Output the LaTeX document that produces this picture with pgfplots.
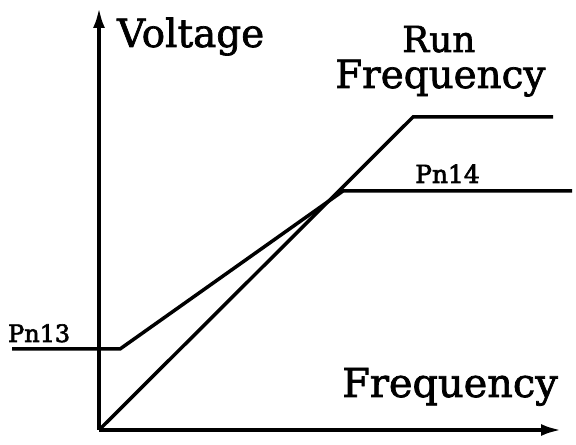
\documentclass[border=0pt]{standalone}
\usepackage{pgfplots}
\pgfplotsset{compat=1.18}
\usetikzlibrary{arrows.meta}
\usepackage{fontspec}
\setmainfont{DejaVu Serif}
\newfontfamily\labfont{DejaVu Serif}[FakeBold=1.8]
\newfontfamily\pnfont{DejaVu Serif}[FakeBold=2.5]

\begin{document}
\begin{tikzpicture}
\begin{axis}[
    scale only axis,
    width=576bp, height=445bp,
    xmin=0, xmax=576, ymin=0, ymax=445,
    hide axis, clip=false,
]
% axes
\addplot[black, line width=3.5bp, -{Latex[length=20bp,width=12bp]}] coordinates {(99,15) (99,437)};
\addplot[black, line width=3.5bp, -{Latex[length=20bp,width=12bp]}] coordinates {(99,15) (561,15)};
% Pn13 -> Pn14 voltage curve
\addplot[black, line width=3.5bp, line join=miter] coordinates {(12,96) (120,96) (343,254) (572,254)};
% run frequency curve
\addplot[black, line width=3.5bp, line join=miter] coordinates {(99,15) (413,328) (553,328)};

\node[inner sep=0pt, anchor=base west] at (axis cs:117,398) {\labfont\fontsize{39}{44}\selectfont Voltage};
\node[inner sep=0pt, anchor=base west] at (axis cs:402,393) {\labfont\fontsize{36}{44}\selectfont Run};
\node[inner sep=0pt, anchor=base west] at (axis cs:335,357) {\labfont\fontsize{39}{44}\selectfont Frequency};
\node[inner sep=0pt, anchor=base west] at (axis cs:342,48) {\labfont\fontsize{40}{44}\selectfont Frequency};
\node[inner sep=0pt, anchor=base west] at (axis cs:415,262) {\pnfont\fontsize{25}{28}\selectfont Pn14};
\node[inner sep=0pt, anchor=base west] at (axis cs:8,103) {\pnfont\fontsize{24}{28}\selectfont Pn13};
\end{axis}
\pgfresetboundingbox
\path (current axis.south west) rectangle (current axis.north east);
\end{tikzpicture}
\end{document}
